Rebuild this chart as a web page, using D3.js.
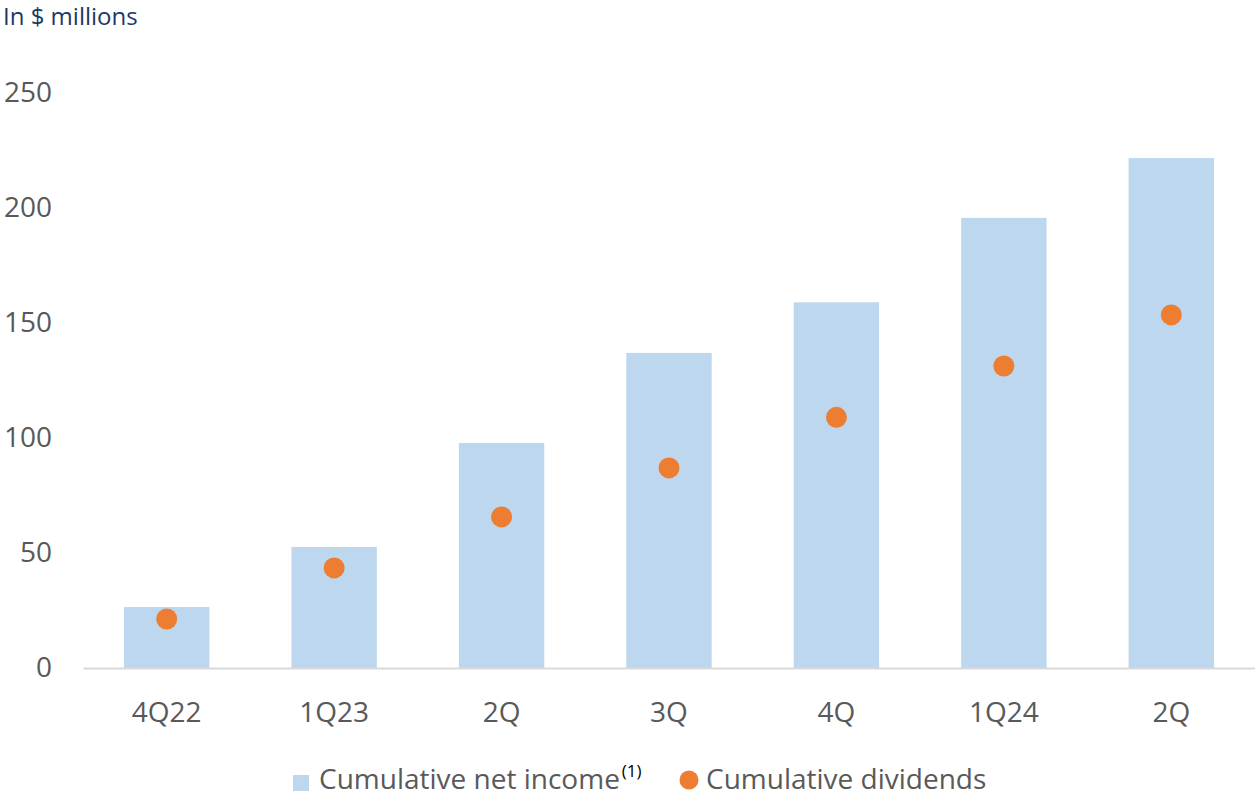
<!DOCTYPE html>
<html>
<head>
<meta charset="utf-8">
<script src="https://cdn.jsdelivr.net/npm/d3@7"></script>
<style>
  html, body { margin: 0; padding: 0; background: #fff; }
  svg { display: block; font-family: "Open Sans", "Noto Sans", sans-serif; }
</style>
</head>
<body>
<svg id="chart" width="1255" height="797"></svg>
<script>
const categories = ["4Q22", "1Q23", "2Q", "3Q", "4Q", "1Q24", "2Q"];
const netIncome = [26.5, 52.6, 97.8, 137, 159, 195.7, 221.7];
const dividends = [21.3, 43.5, 65.7, 87, 109, 131.3, 153.5];
const yTicks = [0, 50, 100, 150, 200, 250];
const titleText = "In $ millions";
const legendLabels = ["Cumulative net income", "Cumulative dividends"];
const legendNote = "(1)";

const svg = d3.select("#chart");
const idx = d3.range(categories.length);

const x = d3.scaleBand().domain(idx).range([83, 1255]).paddingInner(0.49).paddingOuter(0.245);
const y = d3.scaleLinear().domain([0, 250]).range([668, 93]);

// title
svg.append("text").attr("x", 3).attr("y", 25)
  .attr("font-size", 24).attr("fill", "#1F3864").text(titleText);

// bars
svg.append("g").selectAll("rect").data(idx).join("rect")
  .attr("x", i => x(i)).attr("width", x.bandwidth())
  .attr("y", i => y(netIncome[i])).attr("height", i => y(0) - y(netIncome[i]))
  .attr("fill", "#BDD7EE");

// x axis
const xAxis = svg.append("g").attr("transform", "translate(0,668)")
  .call(d3.axisBottom(x).tickSize(0).tickPadding(34).tickFormat(i => categories[i]))
  .attr("font-family", null).attr("font-size", 28);
xAxis.select(".domain").attr("stroke", "#D9D9D9").attr("stroke-width", 2);
xAxis.selectAll("text").attr("fill", "#595959");

// y axis
const yAxis = svg.append("g").attr("transform", "translate(52,0)")
  .call(d3.axisLeft(y).tickValues(yTicks).tickSize(0).tickPadding(0))
  .attr("font-family", null).attr("font-size", 28);
yAxis.select(".domain").remove();
yAxis.selectAll("text").attr("fill", "#595959");

// dots
svg.append("g").selectAll("circle").data(idx).join("circle")
  .attr("cx", i => x(i) + x.bandwidth() / 2).attr("cy", i => y(dividends[i]))
  .attr("r", 10.5).attr("fill", "#ED7D31");

// legend
const lg = svg.append("g");
lg.append("rect").attr("x", 293).attr("y", 775).attr("width", 16).attr("height", 16).attr("fill", "#BDD7EE");
const t1 = lg.append("text").attr("x", 319).attr("y", 789).attr("font-size", 28).attr("fill", "#595959");
t1.append("tspan").text(legendLabels[0]);
t1.append("tspan").attr("dx", 2).attr("dy", -12).attr("font-size", 17).attr("fill", "#000").text(legendNote);
lg.append("circle").attr("cx", 689).attr("cy", 780).attr("r", 9.5).attr("fill", "#ED7D31");
lg.append("text").attr("x", 706).attr("y", 789).attr("font-size", 28).attr("fill", "#595959").text(legendLabels[1]);
</script>
</body>
</html>
